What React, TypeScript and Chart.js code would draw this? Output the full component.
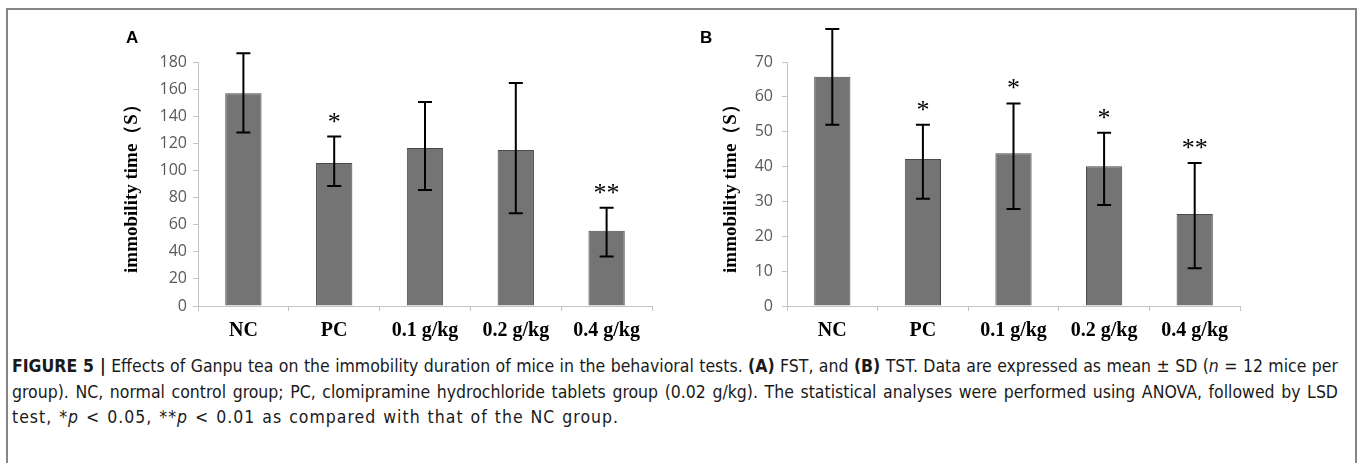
import React, { useEffect, useRef } from "react";
import { Chart, registerables } from "chart.js";

Chart.register(...registerables);

const categories = ["NC", "PC", "0.1 g/kg", "0.2 g/kg", "0.4 g/kg"];

const fstMeans = [157, 105.5, 116.5, 115, 55.5];
const fstErrHigh = [186.5, 125, 150.5, 164.5, 72.5];
const fstErrLow = [128, 88.5, 85.5, 68.5, 36.5];
const fstMarks = ["", "*", "", "", "**"];
const fstTicks = { min: 0, max: 180, step: 20 };

const tstMeans = [65.8, 42.2, 43.8, 40.1, 26.4];
const tstErrHigh = [79.5, 52, 58.1, 49.7, 41];
const tstErrLow = [52, 30.8, 27.8, 29, 10.8];
const tstMarks = ["", "*", "*", "*", "**"];
const tstTicks = { min: 0, max: 70, step: 10 };

const yTitle = "immobility time（S）";

type PanelProps = {
  means: number[];
  hi: number[];
  lo: number[];
  marks: string[];
  range: { min: number; max: number; step: number };
  left: number;
  width: number;
  axisWidth: number;
  padRight: number;
  titlePad: number;
  tickPad: number;
};

const CANVAS_H = 345;
const AREA_TOP = 62;
const AREA_BOTTOM = 306;

function Panel(p: PanelProps) {
  const ref = useRef<HTMLCanvasElement | null>(null);
  useEffect(() => {
    if (!ref.current) return;
    const errPlugin = {
      id: "errbars",
      afterDatasetsDraw(chart: any) {
        const ctx = chart.ctx;
        const meta = chart.getDatasetMeta(0);
        const ys = chart.scales.y;
        ctx.save();
        meta.data.forEach((bar: any, i: number) => {
          const x = bar.x;
          const yh = ys.getPixelForValue(p.hi[i]);
          const yl = ys.getPixelForValue(p.lo[i]);
          ctx.strokeStyle = "#000";
          ctx.lineWidth = 2;
          ctx.beginPath();
          ctx.moveTo(x, yh);
          ctx.lineTo(x, yl);
          ctx.moveTo(x - 7, yh);
          ctx.lineTo(x + 7, yh);
          ctx.moveTo(x - 7, yl);
          ctx.lineTo(x + 7, yl);
          ctx.stroke();
          const m = p.marks[i];
          if (m) {
            ctx.fillStyle = "#000";
            ctx.font = "26px 'Liberation Serif'";
            ctx.textAlign = "center";
            ctx.textBaseline = "alphabetic";
            const cy = yh - 19;
            ctx.fillText(m, x, cy + 12);
          }
        });
        ctx.restore();
      },
    };
    const chart = new Chart(ref.current, {
      type: "bar",
      data: {
        labels: categories,
        datasets: [
          {
            data: p.means,
            backgroundColor: "#747474",
            borderColor: "#4a4a4a",
            borderWidth: 1,
            barPercentage: 0.4,
            categoryPercentage: 1,
          },
        ],
      },
      options: {
        animation: false,
        responsive: false,
        maintainAspectRatio: false,
        layout: { padding: { left: 0, top: AREA_TOP, right: p.padRight, bottom: 0 } },
        plugins: { legend: { display: false }, tooltip: { enabled: false } },
        scales: {
          x: {
            grid: {
              display: true,
              offset: true,
              drawOnChartArea: false,
              drawTicks: true,
              tickLength: 5,
              color: "#c4c4c4",
            },
            border: { display: true, color: "#c4c4c4", width: 1 },
            ticks: {
              color: "#000",
              font: { family: "'Liberation Serif'", size: 20, weight: "bold" },
              padding: 8,
            },
            afterFit: (s: any) => {
              s.height = CANVAS_H - AREA_BOTTOM;
            },
          },
          y: {
            min: p.range.min,
            max: p.range.max,
            grid: {
              display: true,
              drawOnChartArea: false,
              drawTicks: true,
              tickLength: 5,
              color: "#c4c4c4",
            },
            border: { display: true, color: "#c4c4c4", width: 1 },
            ticks: {
              stepSize: p.range.step,
              color: "#595959",
              font: { family: "'Open Sans'", size: 16 },
              padding: p.tickPad,
            },
            title: {
              display: true,
              text: yTitle,
              color: "#000",
              font: { family: "'Liberation Serif'", size: 19, weight: "bold" },
              padding: { top: p.titlePad, bottom: 0 },
            },
            afterFit: (s: any) => {
              s.width = p.axisWidth;
            },
          },
        },
      },
      plugins: [errPlugin],
    } as any);
    return () => chart.destroy();
  }, []);
  return (
    <canvas
      ref={ref}
      width={p.width}
      height={CANVAS_H}
      style={{ position: "absolute", left: p.left, top: 0, width: p.width, height: CANVAS_H }}
    />
  );
}

const captionFont = "'Liberation Sans Narrow', 'DejaVu Sans Condensed', 'Liberation Sans', sans-serif";

export default function App() {
  const lineStyle: React.CSSProperties = {
    height: 25.5,
    lineHeight: "25.5px",
    whiteSpace: "nowrap",
  };
  return (
    <div style={{ position: "absolute", left: 0, top: 0, width: 1357, height: 463, overflow: "hidden", background: "#fff" }}>
      <div
        style={{
          position: "absolute",
          left: 6,
          top: 8,
          width: 1347,
          height: 500,
          borderTop: "2px solid #858585",
          borderLeft: "2px solid #858585",
          borderRight: "2px solid #858585",
        }}
      />
      <Panel means={fstMeans} hi={fstErrHigh} lo={fstErrLow} marks={fstMarks} range={fstTicks}
        left={0} width={680} axisWidth={198} padRight={28} titlePad={121} tickPad={6} />
      <Panel means={tstMeans} hi={tstErrHigh} lo={tstErrLow} marks={tstMarks} range={tstTicks}
        left={680} width={677} axisWidth={107} padRight={117} titlePad={40} tickPad={9} />
      <div style={{ position: "absolute", left: 126, top: 28, font: "bold 17px 'Liberation Sans', Arial, sans-serif", color: "#000" }}>A</div>
      <div style={{ position: "absolute", left: 700, top: 28, font: "bold 17px 'Liberation Sans', Arial, sans-serif", color: "#000" }}>B</div>
      <div style={{ position: "absolute", left: 12, top: 354, width: 1326, fontFamily: captionFont, fontStretch: "condensed", fontSize: 17.5, color: "#1a1a1a" }}>
        <div style={{ ...lineStyle, textAlign: "justify", textAlignLast: "justify" }}>
          <b>FIGURE 5 |</b> Effects of Ganpu tea on the immobility duration of mice in the behavioral tests. <b>(A)</b> FST, and <b>(B)</b> TST. Data are expressed as mean ± SD (<i>n</i> = 12 mice per
        </div>
        <div style={{ ...lineStyle, textAlign: "justify", textAlignLast: "justify" }}>
          group). NC, normal control group; PC, clomipramine hydrochloride tablets group (0.02 g/kg). The statistical analyses were performed using ANOVA, followed by LSD
        </div>
        <div style={{ ...lineStyle, letterSpacing: 1, wordSpacing: 1 }}>
          test, *<i>p</i> &lt; 0.05, **<i>p</i> &lt; 0.01 as compared with that of the NC group.
        </div>
      </div>
    </div>
  );
}
